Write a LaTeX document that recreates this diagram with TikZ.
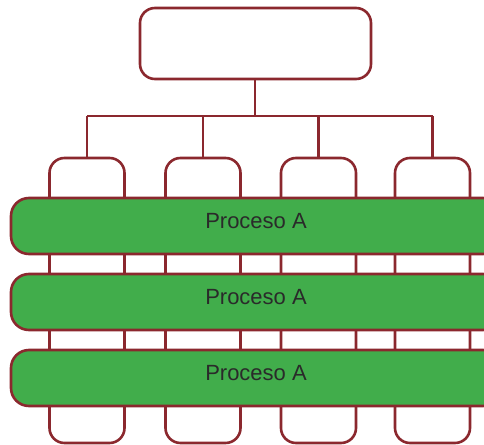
\documentclass[tikz,border=0pt]{standalone}
\usepackage{fontspec}
\setmainfont{Liberation Sans}
\definecolor{edgered}{HTML}{8B282E}
\definecolor{procgreen}{HTML}{41AD4B}
\definecolor{txtgray}{HTML}{2A2A2A}
\begin{document}
\begin{tikzpicture}[x=1pt,y=-1pt,line width=2.6pt,
  topbox/.style={draw=edgered,fill=white,rounded corners=15pt,inner sep=0pt,
    minimum width=231pt,minimum height=71pt},
  colbox/.style={draw=edgered,fill=white,rounded corners=15pt,inner sep=0pt,
    minimum width=75pt,minimum height=285pt},
  barbox/.style={draw=edgered,fill=procgreen,rounded corners=18pt,inner sep=0pt,
    minimum width=490pt,minimum height=56pt},
  lbl/.style={text=txtgray,font=\fontsize{22pt}{24pt}\selectfont,inner sep=0pt},
  link/.style={draw=edgered,line width=2.4pt}]
\useasboundingbox (0,0) rectangle (484,444);
% columns
\node[colbox] (c1) at (87,300.5) {};
\node[colbox] (c2) at (203,300.5) {};
\node[colbox] (c3) at (318.5,300.5) {};
\node[colbox] (c4) at (432.5,300.5) {};
% top box
\node[topbox] (top) at (255.5,43.5) {};
% connectors
\coordinate (hub) at (255,116);
\coordinate (h1) at (c1.north |- hub);
\coordinate (h4) at (c4.north |- hub);
\draw[link] (top.south -| hub) -- (hub);
\draw[link] (h1) -- (h4);
\draw[link] (h1) -- (c1.north);
\draw[link] (c2.north |- hub) -- (c2.north);
\draw[link] (c3.north |- hub) -- (c3.north);
\draw[link] (h4) -- (c4.north);
% process bars
\node[barbox] (b1) at (256,226) {};
\node[barbox] (b2) at (256,302) {};
\node[barbox] (b3) at (256,378) {};
\node[lbl] (t1) at ([yshift=4.5pt]b1.center) {Proceso A};
\node[lbl] (t2) at ([yshift=4.5pt]b2.center) {Proceso A};
\node[lbl] (t3) at ([yshift=4.5pt]b3.center) {Proceso A};
\end{tikzpicture}
\end{document}
